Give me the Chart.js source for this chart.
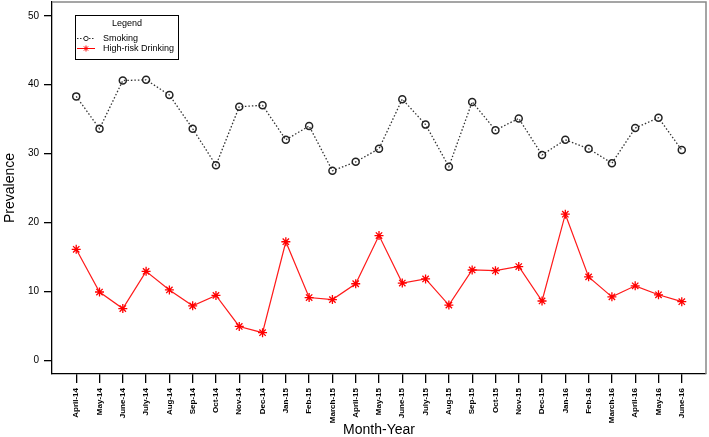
<!DOCTYPE html>
<html>
<head>
<meta charset="utf-8">
<script src="https://cdn.jsdelivr.net/npm/chart.js@4"></script>
<style>
  body { margin: 0; background: #fff; }
</style>
</head>
<body>
<canvas id="chart" width="709" height="437"></canvas>
<script>
const months = ["April-14", "May-14", "June-14", "July-14", "Aug-14", "Sep-14", "Oct-14",
  "Nov-14", "Dec-14", "Jan-15", "Feb-15", "March-15", "April-15", "May-15", "June-15",
  "July-15", "Aug-15", "Sep-15", "Oct-15", "Nov-15", "Dec-15", "Jan-16", "Feb-16",
  "March-16", "April-16", "May-16", "June-16"];

const smoking = [38.3, 33.6, 40.6, 40.7, 38.5, 33.6, 28.3, 36.8, 37.0, 32.0, 34.0, 27.5,
  28.8, 30.7, 37.9, 34.2, 28.1, 37.5, 33.4, 35.1, 29.8, 32.0, 30.7, 28.6, 33.7, 35.2, 30.5];

const drinking = [16.1, 9.9, 7.5, 12.9, 10.2, 7.9, 9.4, 4.9, 4.0, 17.2, 9.1, 8.8,
  11.1, 18.1, 11.2, 11.8, 8.0, 13.1, 13.0, 13.6, 8.6, 21.2, 12.1, 9.2, 10.8, 9.5, 8.5];

const yTicks = [0, 10, 20, 30, 40, 50];

const toPoints = (arr) => arr.map((v, i) => ({ x: i, y: v }));

// no extra label padding, the R plot box sits near the canvas edges
const noPad = (scale) => {
  scale.paddingTop = 0;
  scale.paddingBottom = 0;
  scale.paddingLeft = 0;
  scale.paddingRight = 0;
};

// legend box + grey top/right frame like the R plot
const legendBox = {
  id: "legendBox",
  afterDraw(chart) {
    const ctx = chart.ctx;
    const a = chart.chartArea;
    ctx.save();
    ctx.strokeStyle = "#888";
    ctx.lineWidth = 1.5;
    ctx.beginPath();
    ctx.moveTo(a.left, a.top);
    ctx.lineTo(a.right, a.top);
    ctx.lineTo(a.right, a.bottom);
    ctx.stroke();

    ctx.strokeStyle = "#000";
    ctx.lineWidth = 1;
    ctx.strokeRect(75.5, 15.5, 103, 44);

    ctx.fillStyle = "#000";
    ctx.font = "9px 'Liberation Sans', Arial, sans-serif";
    ctx.textBaseline = "middle";
    ctx.textAlign = "center";
    ctx.fillText("Legend", 127, 24);
    ctx.textAlign = "left";

    const ds = chart.data.datasets;
    // smoking sample
    ctx.strokeStyle = "#333";
    ctx.setLineDash([1.5, 1.5]);
    ctx.beginPath();
    ctx.moveTo(77, 38.5);
    ctx.lineTo(95, 38.5);
    ctx.stroke();
    ctx.setLineDash([]);
    ctx.beginPath();
    ctx.arc(86, 38.5, 2.2, 0, Math.PI * 2);
    ctx.fillStyle = "#fff";
    ctx.fill();
    ctx.stroke();
    ctx.fillStyle = "#000";
    ctx.fillText(ds[0].label, 103, 38.5);

    // drinking sample
    ctx.strokeStyle = "#ff0000";
    ctx.beginPath();
    ctx.moveTo(77, 48.5);
    ctx.lineTo(95, 48.5);
    ctx.stroke();
    const r = 3;
    ctx.beginPath();
    for (let k = 0; k < 4; k++) {
      const ang = k * Math.PI / 4;
      ctx.moveTo(86 - r * Math.cos(ang), 48.5 - r * Math.sin(ang));
      ctx.lineTo(86 + r * Math.cos(ang), 48.5 + r * Math.sin(ang));
    }
    ctx.stroke();
    ctx.fillStyle = "#000";
    ctx.fillText(ds[1].label, 103, 48.5);
    ctx.restore();
  }
};

new Chart(document.getElementById("chart"), {
  type: "line",
  data: {
    datasets: [
      {
        label: "Smoking",
        data: toPoints(smoking),
        borderColor: "#333",
        borderWidth: 1.3,
        borderDash: [1.5, 2],
        pointStyle: "circle",
        pointRadius: 3.5,
        pointBorderWidth: 1.5,
        pointBorderColor: "#222",
        pointBackgroundColor: "transparent",
        tension: 0
      },
      {
        label: "High-risk Drinking",
        data: toPoints(drinking),
        borderColor: "#ff1a1a",
        borderWidth: 1.2,
        pointStyle: "star",
        pointRadius: 4.5,
        pointBorderWidth: 1.3,
        pointBorderColor: "#ff0000",
        pointBackgroundColor: "#ff0000",
        tension: 0
      }
    ]
  },
  options: {
    responsive: false,
    animation: false,
    layout: { autoPadding: false, padding: { top: 2, right: 3, left: 0, bottom: 0 } },
    plugins: {
      legend: { display: false },
      tooltip: { enabled: false }
    },
    scales: {
      x: {
        type: "linear",
        min: -1.04,
        max: 27.04,
        afterBuildTicks: (scale) => {
          scale.ticks = months.map((m, i) => ({ value: i }));
        },
        afterFit: (scale) => { scale.height = 63; noPad(scale); },
        ticks: {
          autoSkip: false,
          maxRotation: 90,
          minRotation: 90,
          padding: 5,
          color: "#000",
          font: { family: "'Liberation Sans', Arial, sans-serif", size: 8, weight: "bold" },
          callback: (v) => months[v]
        },
        grid: { drawOnChartArea: false, drawTicks: true, tickLength: 9, color: "#000", lineWidth: 1.3 },
        border: { display: true, color: "#000", width: 1.3 },
        title: {
          display: true,
          text: "Month-Year",
          color: "#000",
          padding: { top: 0, bottom: 0 },
          font: { family: "'Liberation Sans', Arial, sans-serif", size: 14, lineHeight: 1 }
        }
      },
      y: {
        min: -2,
        max: 52,
        afterBuildTicks: (scale) => {
          scale.ticks = yTicks.map((v) => ({ value: v }));
        },
        afterFit: (scale) => { scale.width = 52; noPad(scale); },
        ticks: {
          padding: 5,
          color: "#000",
          font: { family: "'Liberation Sans', Arial, sans-serif", size: 10 }
        },
        grid: { drawOnChartArea: false, drawTicks: true, tickLength: 8, color: "#000", lineWidth: 1.3 },
        border: { display: true, color: "#000", width: 1.3 },
        title: {
          display: true,
          text: "Prevalence",
          color: "#000",
          padding: { top: 3, bottom: 0 },
          font: { family: "'Liberation Sans', Arial, sans-serif", size: 14, lineHeight: 1 }
        }
      }
    }
  },
  plugins: [legendBox]
});
</script>
</body>
</html>
